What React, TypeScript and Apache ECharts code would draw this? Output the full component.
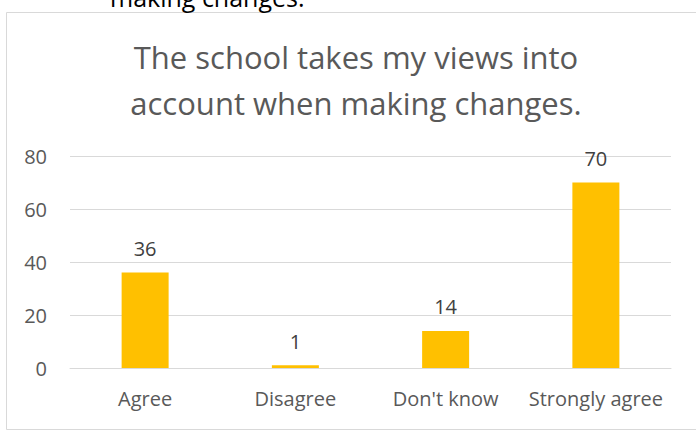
import React, { useEffect, useRef } from "react";
import * as echarts from "echarts";

const categories = ["Agree", "Disagree", "Don't know", "Strongly agree"];
const values = [36, 1, 14, 70];
const titleText = "The school takes my views into\naccount when making changes.";
const cutText = "making changes.";

export default function App() {
  const ref = useRef<HTMLDivElement>(null);
  useEffect(() => {
    if (!ref.current) return;
    const chart = echarts.init(ref.current, null, { renderer: "svg" });
    const font = "'Open Sans', 'Noto Sans', sans-serif";
    chart.setOption({
      animation: false,
      backgroundColor: "#ffffff",
      title: {
        text: titleText,
        left: 351,
        textAlign: "center",
        top: 29,
        textStyle: {
          fontFamily: font,
          fontSize: 31,
          fontWeight: "normal",
          color: "#595959",
          lineHeight: 46,
        },
      },
      graphic: [
        {
          type: "rect",
          shape: { x: 6.5, y: 12.5, width: 720, height: 417 },
          style: { fill: "none", stroke: "#d9d9d9", lineWidth: 1 },
          silent: true,
          z: -1,
        },
        {
          type: "text",
          x: 110,
          y: 9,
          style: {
            text: cutText,
            fontFamily: font,
            fontSize: 25,
            fill: "#000000",
            textVerticalAlign: "bottom",
          },
        },
      ],
      grid: { left: 70, right: 25, top: 156, bottom: 63 },
      xAxis: {
        type: "category",
        data: categories,
        axisLine: { lineStyle: { color: "#d9d9d9" } },
        axisTick: { show: false },
        axisLabel: {
          color: "#595959",
          fontFamily: font,
          fontSize: 20,
          margin: 20,
          interval: 0,
        },
      },
      yAxis: {
        type: "value",
        min: 0,
        max: 80,
        interval: 20,
        axisLine: { show: false },
        axisTick: { show: false },
        splitLine: { lineStyle: { color: "#d9d9d9", width: 1 } },
        axisLabel: {
          color: "#595959",
          fontFamily: font,
          fontSize: 20,
          margin: 23,
        },
      },
      series: [
        {
          type: "bar",
          data: values,
          barWidth: 47,
          itemStyle: { color: "#FFC000" },
          label: {
            show: true,
            position: "top",
            distance: 14,
            color: "#404040",
            fontFamily: font,
            fontSize: 20,
          },
        },
      ],
    });
    return () => chart.dispose();
  }, []);
  return (
    <div
      ref={ref}
      style={{ position: "fixed", left: 0, top: 0, width: 696, height: 431 }}
    />
  );
}
